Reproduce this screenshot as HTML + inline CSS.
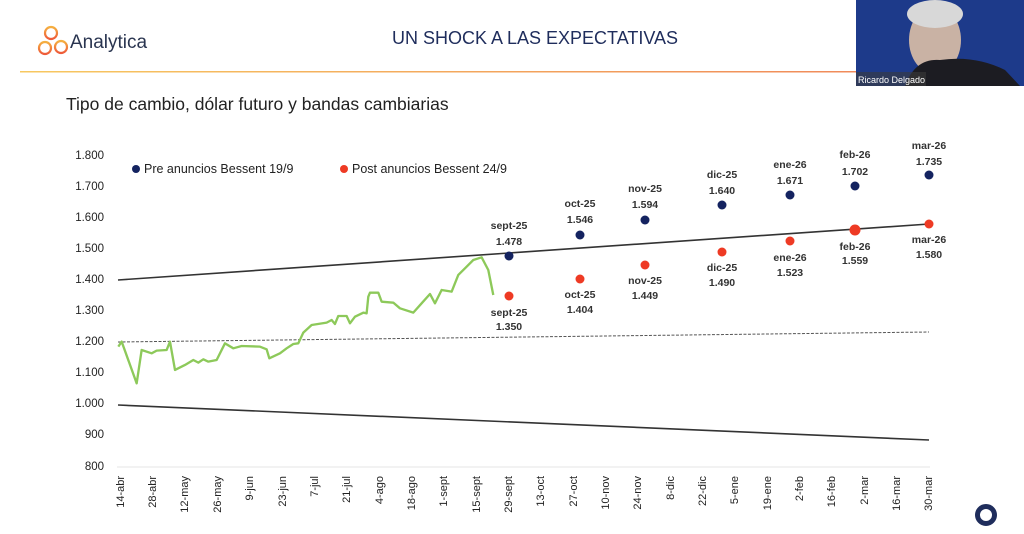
<!DOCTYPE html>
<html><head><meta charset="utf-8"><style>
html,body{margin:0;padding:0;background:#fff;}
body{width:1024px;height:534px;overflow:hidden;position:relative;font-family:"Liberation Sans",sans-serif;}
</style></head><body>
<svg width="1024" height="534" viewBox="0 0 1024 534" xmlns="http://www.w3.org/2000/svg" style="position:absolute;left:0;top:0">
<defs>
<linearGradient id="hl" x1="0" x2="1"><stop offset="0" stop-color="#f7c860"/><stop offset="1" stop-color="#f08a5a"/></linearGradient>
<linearGradient id="lg" x1="0" y1="0" x2="0" y2="1"><stop offset="0" stop-color="#f5b040"/><stop offset="1" stop-color="#ee5a3a"/></linearGradient>
</defs>
<!-- logo -->
<g fill="none" stroke="url(#lg)" stroke-width="2.2">
<circle cx="51" cy="33" r="6"/><circle cx="45" cy="48" r="6"/><circle cx="61" cy="47" r="6"/>
</g>
<text x="70" y="48" font-size="19" fill="#2a3550">Analytica</text>
<text x="535" y="44" font-size="18" fill="#1f2d5c" text-anchor="middle">UN SHOCK A LAS EXPECTATIVAS</text>
<rect x="20" y="71" width="840" height="1.5" fill="url(#hl)"/>
<text x="66" y="110" font-size="17.5" fill="#222">Tipo de cambio, dólar futuro y bandas cambiarias</text>
<!-- webcam -->
<rect x="856" y="0" width="168" height="86" fill="#1d3a8a"/>
<ellipse cx="935" cy="40" rx="26" ry="34" fill="#c9b2a4"/>
<ellipse cx="935" cy="14" rx="28" ry="14" fill="#d8d8d8"/>
<path d="M905 86 Q915 58 940 60 Q975 55 1005 70 L1020 86 Z" fill="#1c1c22"/>
<rect x="856" y="72" width="70" height="14" fill="#3a3a3a" opacity="0.6"/>
<text x="858" y="83" font-size="9" fill="#fff">Ricardo Delgado</text>
<!-- y axis labels -->
<g font-size="11.5" fill="#222" text-anchor="end">
<text x="104" y="159">1.800</text><text x="104" y="190">1.700</text><text x="104" y="221">1.600</text>
<text x="104" y="252">1.500</text><text x="104" y="283">1.400</text><text x="104" y="314">1.300</text>
<text x="104" y="345">1.200</text><text x="104" y="376">1.100</text><text x="104" y="407">1.000</text>
<text x="104" y="438">900</text><text x="104" y="470">800</text>
</g>
<line x1="117" y1="467" x2="930" y2="467" stroke="#e6e6e6" stroke-width="1"/>
<!-- legend -->
<circle cx="136" cy="169" r="4" fill="#142360"/>
<text x="144" y="173" font-size="12.5" fill="#222">Pre anuncios Bessent 19/9</text>
<circle cx="344" cy="169" r="4" fill="#ee3a24"/>
<text x="352" y="173" font-size="12.5" fill="#222">Post anuncios Bessent 24/9</text>
<!-- bands -->
<line x1="118" y1="280" x2="929" y2="224" stroke="#333" stroke-width="1.6"/>
<line x1="118" y1="405" x2="929" y2="440" stroke="#333" stroke-width="1.6"/>
<line x1="118" y1="342" x2="929" y2="332" stroke="#555" stroke-width="1" stroke-dasharray="3,1.5"/>
<!-- green -->
<g transform="translate(60,140) scale(0.3333)">
<polyline fill="none" stroke="#8dc95a" stroke-width="7" stroke-linejoin="round" points="175,620 185,605 230,730 245,630 275,640 290,632 320,630 330,605 345,690 375,675 400,660 415,668 430,658 445,665 470,660 495,610 520,625 545,618 600,620 620,628 628,655 660,640 680,625 700,612 715,610 730,578 755,555 800,548 815,540 825,552 835,528 860,528 870,550 885,530 910,518 920,520 925,470 930,458 955,458 965,485 1000,488 1020,505 1060,518 1085,490 1110,462 1125,490 1145,450 1175,455 1195,405 1220,380 1240,360 1265,352 1285,390 1300,465"/>
</g>
<!-- dots -->
<g fill="#142360">
<circle cx="509" cy="256" r="4.5"/><circle cx="580" cy="235" r="4.5"/><circle cx="645" cy="220" r="4.5"/>
<circle cx="722" cy="205" r="4.5"/><circle cx="790" cy="195" r="4.5"/><circle cx="855" cy="186" r="4.5"/><circle cx="929" cy="175" r="4.5"/>
</g>
<g fill="#ee3a24">
<circle cx="509" cy="296" r="4.5"/><circle cx="580" cy="279" r="4.5"/><circle cx="645" cy="265" r="4.5"/>
<circle cx="722" cy="252" r="4.5"/><circle cx="790" cy="241" r="4.5"/><circle cx="855" cy="230" r="5.5"/><circle cx="929" cy="224" r="4.5"/>
</g>
<g font-size="10.5" font-weight="bold" fill="#333" text-anchor="middle">
<text x="509" y="229">sept-25</text><text x="509" y="245">1.478</text>
<text x="580" y="207">oct-25</text><text x="580" y="223">1.546</text>
<text x="645" y="192">nov-25</text><text x="645" y="208">1.594</text>
<text x="722" y="178">dic-25</text><text x="722" y="194">1.640</text>
<text x="790" y="168">ene-26</text><text x="790" y="184">1.671</text>
<text x="855" y="158">feb-26</text><text x="855" y="175">1.702</text>
<text x="929" y="149">mar-26</text><text x="929" y="165">1.735</text>
<text x="509" y="316">sept-25</text><text x="509" y="330">1.350</text>
<text x="580" y="298">oct-25</text><text x="580" y="313">1.404</text>
<text x="645" y="284">nov-25</text><text x="645" y="299">1.449</text>
<text x="722" y="271">dic-25</text><text x="722" y="286">1.490</text>
<text x="790" y="261">ene-26</text><text x="790" y="276">1.523</text>
<text x="855" y="250">feb-26</text><text x="855" y="264">1.559</text>
<text x="929" y="243">mar-26</text><text x="929" y="258">1.580</text>
</g>
<!-- x labels -->
<g font-size="11" fill="#222" text-anchor="end">
<text transform="translate(124,476) rotate(-90)">14-abr</text>
<text transform="translate(156,476) rotate(-90)">28-abr</text>
<text transform="translate(188,476) rotate(-90)">12-may</text>
<text transform="translate(221,476) rotate(-90)">26-may</text>
<text transform="translate(253,476) rotate(-90)">9-jun</text>
<text transform="translate(286,476) rotate(-90)">23-jun</text>
<text transform="translate(318,476) rotate(-90)">7-jul</text>
<text transform="translate(350,476) rotate(-90)">21-jul</text>
<text transform="translate(383,476) rotate(-90)">4-ago</text>
<text transform="translate(415,476) rotate(-90)">18-ago</text>
<text transform="translate(447,476) rotate(-90)">1-sept</text>
<text transform="translate(480,476) rotate(-90)">15-sept</text>
<text transform="translate(512,476) rotate(-90)">29-sept</text>
<text transform="translate(544,476) rotate(-90)">13-oct</text>
<text transform="translate(577,476) rotate(-90)">27-oct</text>
<text transform="translate(609,476) rotate(-90)">10-nov</text>
<text transform="translate(641,476) rotate(-90)">24-nov</text>
<text transform="translate(674,476) rotate(-90)">8-dic</text>
<text transform="translate(706,476) rotate(-90)">22-dic</text>
<text transform="translate(738,476) rotate(-90)">5-ene</text>
<text transform="translate(771,476) rotate(-90)">19-ene</text>
<text transform="translate(803,476) rotate(-90)">2-feb</text>
<text transform="translate(835,476) rotate(-90)">16-feb</text>
<text transform="translate(868,476) rotate(-90)">2-mar</text>
<text transform="translate(900,476) rotate(-90)">16-mar</text>
<text transform="translate(932,476) rotate(-90)">30-mar</text>
</g>
<circle cx="986" cy="515" r="8.5" fill="none" stroke="#1f2d5c" stroke-width="5"/>
</svg>
</body></html>
